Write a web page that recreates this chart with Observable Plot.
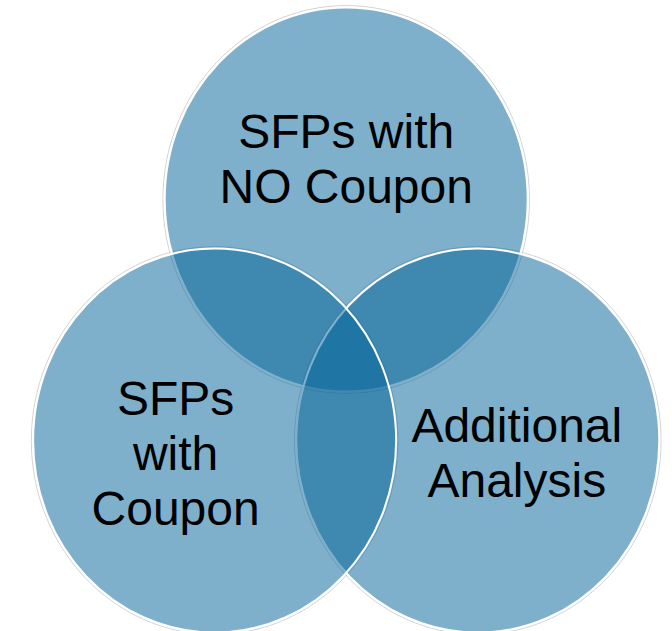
<!DOCTYPE html>
<html>
<head>
<meta charset="utf-8">
<script src="https://cdn.jsdelivr.net/npm/d3@7"></script>
<script src="https://cdn.jsdelivr.net/npm/@observablehq/plot@0.6"></script>
<style>
  html, body { margin: 0; padding: 0; background: #ffffff; }
  #chart svg { display: block; }
</style>
</head>
<body>
<div id="chart"></div>
<script>
// Sets of the Venn diagram (drawing order: top, right, left)
const sets = ["SFPs with NO Coupon", "Additional Analysis", "SFPs with Coupon"];
const labels = ["SFPs with\nNO Coupon", "Additional\nAnalysis", "SFPs\nwith\nCoupon"];
const angles = [-90, 30, 150];      // placement of each set around the centre (degrees)
const labelAngles = [-90, 27, 153]; // placement of each label

// layout (in units of circle radius)
const centerDist = 0.837;
const labelDist = 1.055;
const radiusPx = 181.5;
const aspect = 192 / 181.5;

const rad = a => a * Math.PI / 180;
const circles = sets.map((s, i) => ({
  set: s,
  x: centerDist * Math.cos(rad(angles[i])),
  y: centerDist * Math.sin(rad(angles[i]))
}));
const texts = sets.map((s, i) => ({
  label: labels[i],
  x: labelDist * Math.cos(rad(labelAngles[i])),
  y: labelDist * Math.sin(rad(labelAngles[i]))
}));

// ellipse symbol (slightly taller than wide, like the reference)
const ellipse = {
  draw(ctx, size) {
    const rx = Math.sqrt(size / Math.PI), ry = rx * aspect, k = 0.5522847498;
    ctx.moveTo(rx, 0);
    ctx.bezierCurveTo(rx, ry * k, rx * k, ry, 0, ry);
    ctx.bezierCurveTo(-rx * k, ry, -rx, ry * k, -rx, 0);
    ctx.bezierCurveTo(-rx, -ry * k, -rx * k, -ry, 0, -ry);
    ctx.bezierCurveTo(rx * k, -ry, rx, -ry * k, rx, 0);
    ctx.closePath();
  }
};

const W = 672, H = 631, cx = 345.7, cy = 359.7;
const plot = Plot.plot({
  width: W,
  height: H,
  margin: 0,
  style: { background: "#ffffff", overflow: "visible" },
  x: { domain: [(0 - cx) / radiusPx, (W - cx) / radiusPx], range: [0, W], axis: null },
  y: { domain: [(0 - cy) / 192, (H - cy) / 192], range: [0, H], axis: null },
  marks: [
    // faint grey shadow ring
    Plot.dot(circles, { x: "x", y: "y", r: radiusPx + 1.8, symbol: ellipse, fill: "none", stroke: "#c8c8c8", strokeWidth: 1, strokeOpacity: 0.8 }),
    Plot.dot(circles, { x: "x", y: "y", r: radiusPx, symbol: ellipse, fill: "rgb(0,97,151)", fillOpacity: 0.5, stroke: "#ffffff", strokeWidth: 2 }),
    Plot.text(texts, { x: "x", y: "y", text: "label", fontSize: 48, fontFamily: "Liberation Sans, Arial, sans-serif", fill: "#000000", textAnchor: "middle", lineAnchor: "middle", lineHeight: 1.15 })
  ]
});
document.getElementById("chart").appendChild(plot);
</script>
</body>
</html>
